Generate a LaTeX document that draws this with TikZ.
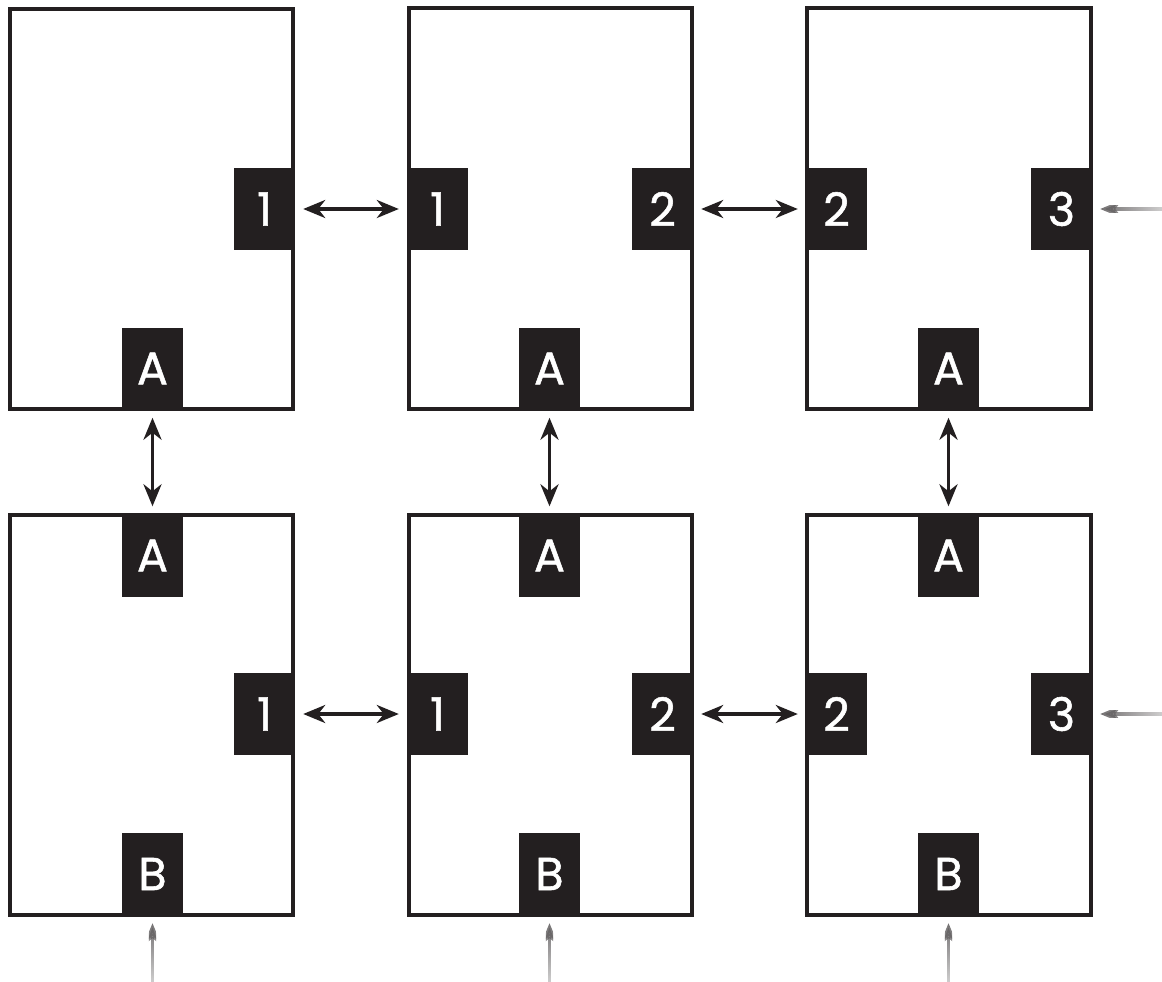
\documentclass[tikz,border=0pt]{standalone}
\usepackage{fontspec}
\setmainfont{Poppins}
\newfontfamily\tagfont[FakeBold=1.2]{Poppins}
\usetikzlibrary{arrows.meta,fadings}
\definecolor{ink}{HTML}{231F20}
\tikzfading[name=tailfade, left color=transparent!0, right color=transparent!70]
\tikzfading[name=tailfadev, top color=transparent!0, bottom color=transparent!70]
\begin{document}
\begin{tikzpicture}[x=1pt,y=-1pt,
  frame/.style={draw=ink, line width=3.5pt},
  tag/.style={fill=ink, text=white, minimum width=61pt, minimum height=82pt, inner sep=0pt, font=\tagfont\fontsize{46}{46}\selectfont},
  link/.style={draw=ink, line width=3.5pt, {Stealth[length=22pt,width=18pt,inset=7pt]}-{Stealth[length=22pt,width=18pt,inset=7pt]}, shorten <=8pt, shorten >=8pt},
  feed/.style={draw=ink!70, line width=3.5pt, -{Stealth[length=22pt,width=18pt,inset=7pt]}, shorten >=8pt}
]
\useasboundingbox (0,0) rectangle (1162,982);
% frames
\draw[frame] (10,9) rectangle (293,409);
\draw[frame] (409,8) rectangle (692,409);
\draw[frame] (807,8) rectangle (1091,409);
\draw[frame] (10,515) rectangle (293,915);
\draw[frame] (409,515) rectangle (692,915);
\draw[frame] (807,515) rectangle (1091,915);
% top row tags
\node[tag] (t1r) at (264.5,209) {1};
\node[tag] (t2l) at (437.5,209) {1};
\node[tag] (t2r) at (662.5,209) {2};
\node[tag] (t3l) at (836.5,209) {2};
\node[tag] (t3r) at (1061.5,209) {3};
\node[tag] (t1a) at (152.5,368.5) {A};
\node[tag] (t2a) at (549.5,368.5) {A};
\node[tag] (t3a) at (948.5,368.5) {A};
% bottom row tags
\node[tag] (b1a) at (152.5,555.5) {A};
\node[tag] (b2a) at (549.5,555.5) {A};
\node[tag] (b3a) at (948.5,555.5) {A};
\node[tag] (b1r) at (264.5,714) {1};
\node[tag] (b2l) at (437.5,714) {1};
\node[tag] (b2r) at (662.5,714) {2};
\node[tag] (b3l) at (836.5,714) {2};
\node[tag] (b3r) at (1061.5,714) {3};
\node[tag] (b1b) at (152.5,874) {B};
\node[tag] (b2b) at (549.5,874) {B};
\node[tag] (b3b) at (948.5,874) {B};
% free ends
\coordinate (e1) at (1162,209);
\coordinate (e2) at (1162,714);
\coordinate (f1) at (152.5,982);
\coordinate (f2) at (549.5,982);
\coordinate (f3) at (948.5,982);
% links
\draw[link] (t1r.east) -- (t2l.west);
\draw[link] (t2r.east) -- (t3l.west);
\draw[link] (b1r.east) -- (b2l.west);
\draw[link] (b2r.east) -- (b3l.west);
\draw[link] (t1a.south) -- (b1a.north);
\draw[link] (t2a.south) -- (b2a.north);
\draw[link] (t3a.south) -- (b3a.north);
% feeds
\draw[feed, path fading=tailfade] (e1) -- (t3r.east);
\draw[feed, path fading=tailfade] (e2) -- (b3r.east);
\draw[feed, path fading=tailfadev] (f1) -- (b1b.south);
\draw[feed, path fading=tailfadev] (f2) -- (b2b.south);
\draw[feed, path fading=tailfadev] (f3) -- (b3b.south);
\end{tikzpicture}
\end{document}
